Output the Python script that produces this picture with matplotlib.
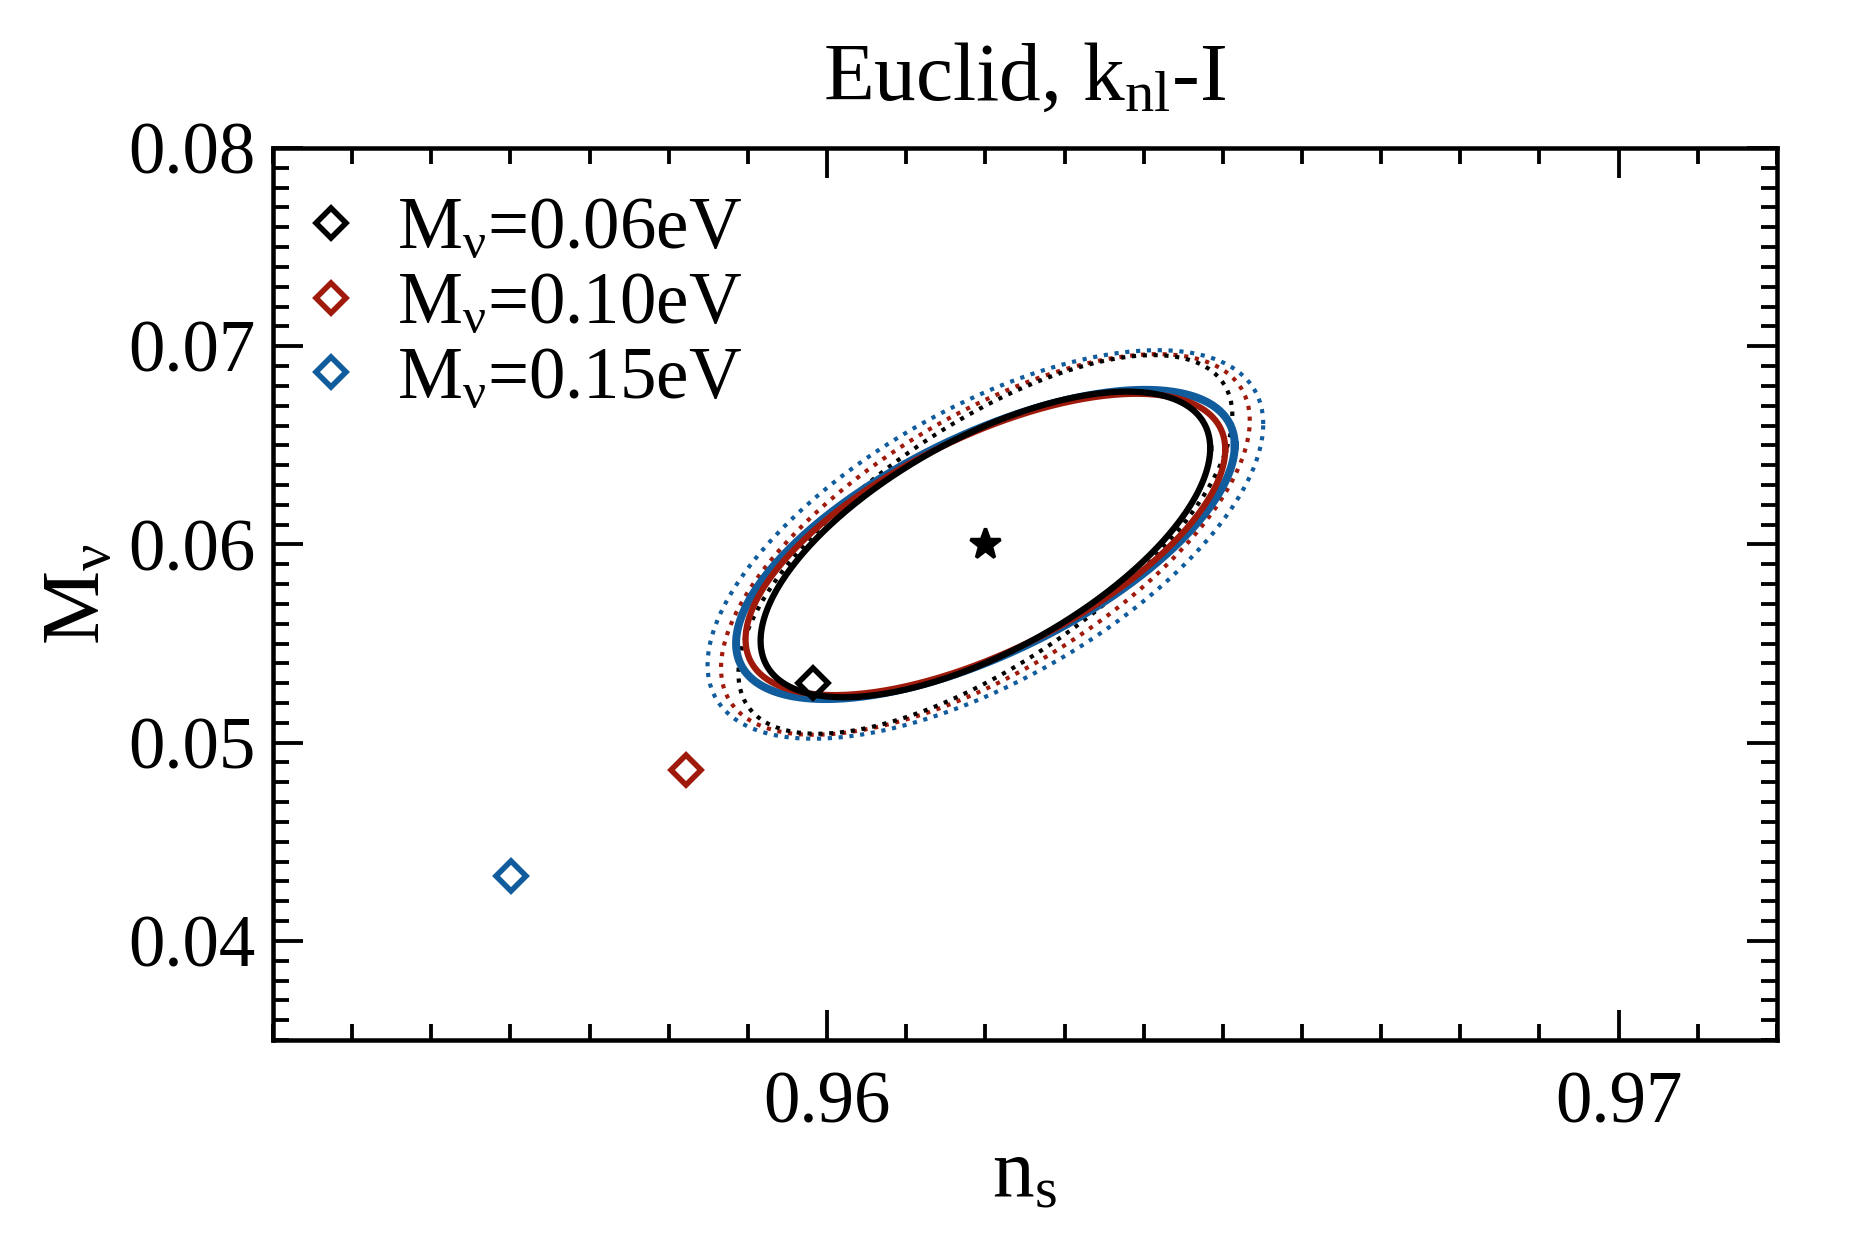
import numpy as np
import matplotlib
matplotlib.use("Agg")
import matplotlib.pyplot as plt
from matplotlib.ticker import MultipleLocator

plt.rcParams["font.family"] = ["Liberation Serif", "DejaVu Serif"]
plt.rcParams["mathtext.fontset"] = "custom"
plt.rcParams["mathtext.rm"] = "Liberation Serif"
plt.rcParams["mathtext.it"] = "Liberation Serif:italic"

# fiducial point
ns_fid = 0.962
mnu_fid = 0.060

# cases: label, colour
labels = [r"M$_{\mathrm{ν}}$=0.06eV", r"M$_{\mathrm{ν}}$=0.10eV", r"M$_{\mathrm{ν}}$=0.15eV"]
colors = ["black", "#a01a0c", "#115c9c"]

# biased best-fit points (diamonds)
ns_shift = [0.95982, 0.95822, 0.95601]
mnu_shift = [0.05300, 0.04861, 0.04327]

# solid contours: half-width in ns, half-height in Mnu, correlation
solid_dx = [0.00284, 0.00303, 0.00315]
solid_dy = [0.00771, 0.00760, 0.00780]
solid_rho = [0.63, 0.63, 0.64]
solid_lw = [1.8, 1.8, 2.3]

# dotted contours
dot_dx = [0.00312, 0.00334, 0.00351]
dot_dy = [0.00955, 0.00960, 0.00980]
dot_rho = [0.68, 0.65, 0.62]


def ellipse(cx, cy, dx, dy, rho, n=400):
    t = np.linspace(0, 2 * np.pi, n)
    x = cx + dx * np.cos(t)
    y = cy + dy * (rho * np.cos(t) + np.sqrt(1 - rho**2) * np.sin(t))
    return x, y


fig = plt.figure(figsize=(7.5, 5), dpi=250)
ax = fig.add_axes([0.1456, 0.168, 0.8021, 0.7136])

for i in [2, 1, 0]:
    x, y = ellipse(ns_fid, mnu_fid, dot_dx[i], dot_dy[i], dot_rho[i])
    ax.plot(x, y, ls=(0, (1, 1.6)), lw=1.2, color=colors[i])

for i in [2, 1, 0]:
    x, y = ellipse(ns_fid, mnu_fid, solid_dx[i], solid_dy[i], solid_rho[i])
    ax.plot(x, y, ls="-", lw=solid_lw[i], color=colors[i])

for i in range(3):
    ax.plot(ns_shift[i], mnu_shift[i], ls="none", marker="D", ms=6.3,
            mfc="none", mec=colors[i], mew=1.6, label=labels[i])

ax.plot(ns_fid, mnu_fid, ls="none", marker="*", ms=9, color="black")

ax.set_xlim(0.953, 0.972)
ax.set_ylim(0.035, 0.08)
ax.xaxis.set_major_locator(MultipleLocator(0.01))
ax.xaxis.set_minor_locator(MultipleLocator(0.001))
ax.yaxis.set_major_locator(MultipleLocator(0.01))
ax.yaxis.set_minor_locator(MultipleLocator(0.001))
ax.set_xticks([0.96, 0.97])
ax.set_xticklabels(["0.96", "0.97"])
ax.set_yticks([0.04, 0.05, 0.06, 0.07, 0.08])
ax.set_yticklabels(["0.04", "0.05", "0.06", "0.07", "0.08"])

ax.tick_params(which="both", direction="in", top=True, right=True, width=1.1)
ax.tick_params(which="major", length=8.5, labelsize=21)
ax.tick_params(which="minor", length=4.5)
ax.tick_params(axis="x", which="major", pad=9)
ax.tick_params(axis="y", which="major", pad=5)
for s in ax.spines.values():
    s.set_linewidth(1.3)

ax.set_xlabel(r"n$_{\mathrm{s}}$", fontsize=24, labelpad=0)
ax.set_ylabel(r"M$_{\mathrm{ν}}$", fontsize=24, labelpad=3)
ax.set_title(r"Euclid, k$_{\mathrm{nl}}$-I", fontsize=24, pad=14)

ax.legend(loc="upper left", frameon=False, fontsize=21, numpoints=1,
          handlelength=0.8, handletextpad=0.5, labelspacing=0.1,
          borderaxespad=0.0, bbox_to_anchor=(0.0, 0.978))

fig.savefig("out.png", dpi=250)
